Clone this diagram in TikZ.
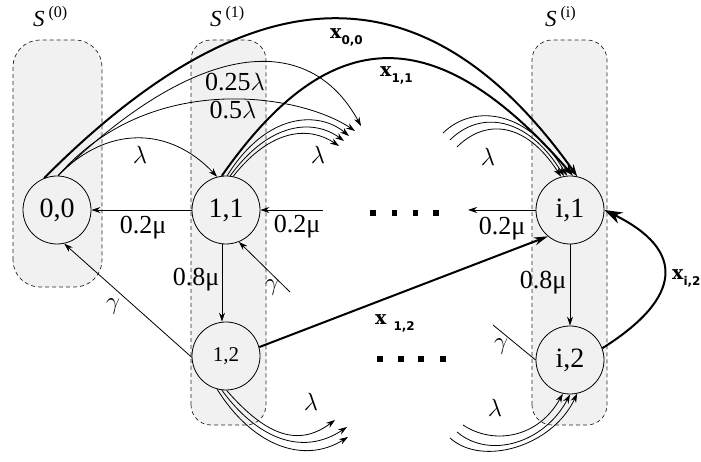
\documentclass[tikz,border=0pt]{standalone}
\usepackage{fontspec}
\setmainfont{Liberation Serif}
\newfontfamily\xfont{DejaVu Serif}
\newfontfamily\subfont{DejaVu Sans}
\usetikzlibrary{arrows.meta}
\definecolor{boxgray}{RGB}{241,241,241}
\begin{document}
\begin{tikzpicture}[x=1pt,y=1pt,
  st/.style={circle,draw,line width=0.8pt,fill=boxgray,minimum size=68pt,inner sep=0pt,font=\fontsize{28}{30}\selectfont},
  grp/.style={draw=black!85,dash pattern=on 4pt off 3pt,line width=0.7pt,fill=boxgray},
  thin/.style={line width=0.8pt,-{Stealth[length=9pt,width=6pt]}},
  plain/.style={line width=0.8pt},
  thk/.style={line width=2pt,-{Stealth[length=12pt,width=8pt]}},
  lab/.style={font=\fontsize{26}{28}\selectfont,inner sep=0pt},
  glab/.style={font=\fontsize{26}{28}\selectfont,inner sep=0pt},
  slab/.style={font=\fontsize{23}{25}\selectfont,inner sep=0pt,anchor=base west},
  xlab/.style={font=\xfont\bfseries\fontsize{19}{20}\selectfont,inner sep=0pt,anchor=base west},
  dotsq/.style={fill=black}
]
\useasboundingbox (0,0) rectangle (701,462);

% groups
\draw[grp,rounded corners=27pt] (13,175) rectangle (102,422);
\draw[grp,rounded corners=20pt] (191,37) rectangle (266,422);
\draw[grp,rounded corners=20pt] (532,37) rectangle (607,422);

\node[slab] (s0) at (33,435) {\itshape S\upshape\,\textsuperscript{(0)}};
\node[slab] (s1) at (210,435) {\itshape S\upshape\,\textsuperscript{(1)}};
\node[slab] (si) at (545,435) {\itshape S\upshape\,\textsuperscript{(i)}};

% states
\node[st] (n00) at (57,252) {0,0};
\node[st] (n11) at (226,252) {1,1};
\node[st,font=\fontsize{21}{23}\selectfont] (n12) at (226,106) {1,2};
\node[st] (ni1) at (570,252) {i,1};
\node[st] (ni2) at (570,102) {i,2};

% free ends
\coordinate (q1) at (361,336);
\coordinate (q2) at (355,331);
\coordinate (q3) at (349,326);
\coordinate (q4) at (344,321);
\coordinate (q5) at (339,316);
\coordinate (r1) at (443,329);
\coordinate (r2) at (450,322);
\coordinate (r3) at (457,315);
\coordinate (h1) at (323,252);
\coordinate (h2) at (468,252);
\coordinate (g1) at (290,170);
\coordinate (g2) at (493,137);
\coordinate (e1) at (335,42);
\coordinate (e2) at (347,35);
\coordinate (e3) at (348,25);
\coordinate (t1) at (463,37);
\coordinate (t2) at (457,30);
\coordinate (t3) at (450,24);

% thick x edges
\draw[thk] (n00.112) .. controls +(210,211) and +(-150,211) .. (ni1.78);
\draw[thk] (n11.97) .. controls +(109,156) and +(-136,156) .. (ni1.85);

% thin from 0,0
\draw[thin] (n00.88) .. controls +(142,139) and +(-51,94) .. (q1);
\draw[thin] (n00.88) .. controls +(92,106) and +(-55,37) .. (q2);
\draw[thin] (n00.88) .. controls +(48,50) and +(-48,51) .. (n11.105);

% lambdas from 1,1
\draw[thin] (n11.88) .. controls +(40,64) and +(-30,25) .. (q3);
\draw[thin] (n11.83) .. controls +(40,55) and +(-30,22) .. (q4);
\draw[thin] (n11.78) .. controls +(38,48) and +(-30,20) .. (q5);

% lambdas into i,1
\draw[thin] (r1) .. controls +(32,31) and +(-37,64) .. (ni1.95);
\draw[thin] (r2) .. controls +(30,30) and +(-37,60) .. (ni1.100);
\draw[thin] (r3) .. controls +(28,28) and +(-36,56) .. (ni1.105);

% horizontal mu
\draw[thin] (n11.west) -- (n00.east);
\draw[thin] (h1) -- (n11.east);
\draw[thin] (ni1.west) -- (h2);

% vertical
\draw[thin] ([xshift=-4pt]n11.south) -- ([xshift=-4pt]n12.north);
\draw[thin] (ni1.south) -- (ni2.north);

% gammas
\draw[thin] (g1) -- (n11.-68);
\draw[thin] (n12.182) -- (n00.-78);
\draw[plain] (ni2.west) -- (g2);

% x12, xi2
\draw[line width=2pt,-{Stealth[length=14pt,width=8pt]}] (n12.15) -- (ni1.230);
\draw[line width=2pt,-{Stealth[length=18pt,width=12pt]}] (ni2.20) .. controls +(81,51) and +(81,-40) .. (ni1.east);

% lambdas from 1,2
\draw[thin] (n12.271) .. controls +(35,-40) and +(-40,-30) .. (e1);
\draw[thin] (n12.263) .. controls +(35,-48) and +(-45,-30) .. (e2);
\draw[thin] (n12.255) .. controls +(35,-56) and +(-45,-28) .. (e3);

% lambdas into i,2
\draw[thin] (t1) .. controls +(30,-20) and +(-25,-45) .. (ni2.258);
\draw[thin] (t2) .. controls +(33,-28) and +(-25,-48) .. (ni2.270);
\draw[thin] (t3) .. controls +(32,-29) and +(-25,-53) .. (ni2.282);

% dots
\foreach \x in {370,391.5,412.5,433}{\fill[dotsq] (\x,246) rectangle +(5.5,5.5);}
\foreach \x in {377,398,418,440}{\fill[dotsq] (\x,100) rectangle +(5.5,5.5);}

% labels
\node[lab] (l025) at (235,380) {0.25$\lambda$};
\node[lab] (l05) at (233,352) {0.5$\lambda$};
\node[glab] (la0) at (140,307) {$\lambda$};
\node[glab] (la1) at (318,307) {$\lambda$};
\node[glab] (la2) at (488,305) {$\lambda$};
\node[glab] (la3) at (311,60) {$\lambda$};
\node[glab] (la4) at (495,54) {$\lambda$};
\node[lab] (m1) at (143,234) {0.2μ};
\node[lab] (m2) at (297,235) {0.2μ};
\node[lab] (m3) at (502,233) {0.2μ};
\node[lab] (m4) at (196,182) {0.8μ};
\node[lab] (m5) at (543,179) {0.8μ};
\node[glab] (g1l) at (272,174) {$\gamma$};
\node[glab] (g0l) at (113,155) {$\gamma$};
\node[glab] (g2l) at (501,115) {$\gamma$};

\node[xlab] (x00) at (330,423) {x\raisebox{-6pt}{\subfont\bfseries\fontsize{12}{12}\selectfont 0,0}};
\node[xlab] (x11) at (380,385) {x\raisebox{-6pt}{\subfont\bfseries\fontsize{12}{12}\selectfont 1,1}};
\node[xlab] (x12) at (375,137) {x\hspace{7pt}\raisebox{-6pt}{\subfont\bfseries\fontsize{12}{12}\selectfont 1,2}};
\node[xlab] (xi2) at (672,182) {x\raisebox{-6pt}{\subfont\bfseries\fontsize{12}{12}\selectfont i,2}};
\end{tikzpicture}
\end{document}
